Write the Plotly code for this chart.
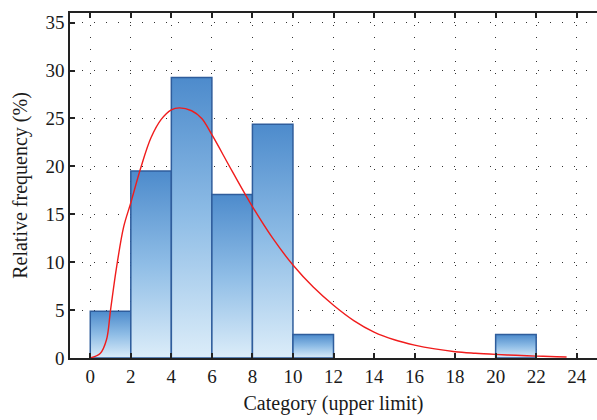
import plotly.graph_objects as go

# ---- data ----
bin_left = [0, 2, 4, 6, 8, 10, 20]
bin_width = 2
rel_freq = [4.88, 19.51, 29.27, 17.07, 24.39, 2.44, 2.44]

curve_x = [0, 0.5, 0.8, 1.0, 1.3, 1.65, 2.0, 2.5, 3.0, 3.5, 4.0, 4.4, 5.0, 5.5, 6.0,
           7.0, 8.0, 9.0, 10.0, 11.0, 12.0, 13.0, 14.0, 15.0, 16.0, 17.0, 18.0,
           19.0, 20.0, 21.0, 22.0, 23.0, 23.5]
curve_y = [0, 0.5, 1.9, 5.0, 9.5, 13.7, 16.2, 19.9, 23.0, 24.9, 25.9, 26.1, 25.8, 25.0, 23.3,
           19.5, 15.8, 12.5, 9.7, 7.4, 5.5, 3.9, 2.7, 1.9, 1.35, 0.95, 0.66,
           0.5, 0.38, 0.28, 0.2, 0.13, 0.1]

x_ticks = list(range(0, 25, 2))
y_ticks = list(range(0, 36, 5))

FONT = "Liberation Serif"

fig = go.Figure()

for left, h in zip(bin_left, rel_freq):
    right = left + bin_width
    fig.add_trace(go.Scatter(
        x=[left, left, right, right, left],
        y=[0, h, h, 0, 0],
        mode="lines",
        fill="toself",
        fillgradient=dict(type="vertical",
                          colorscale=[[0, "#dcedf9"], [0.5, "#8fbde6"], [1, "#4d8bcc"]]),
        line=dict(color="#2f5d9c", width=1.5),
        hoverinfo="skip",
        showlegend=False,
    ))

fig.add_trace(go.Scatter(
    x=curve_x, y=curve_y, mode="lines",
    line=dict(color="#f01c1c", width=1.4, shape="spline", smoothing=1.0),
    showlegend=False,
))

fig.update_layout(
    width=597, height=420,
    margin=dict(l=70, r=0, t=13, b=62),
    plot_bgcolor="white", paper_bgcolor="white",
    font=dict(family=FONT, size=19, color="#1a1a1a"),
)

fig.update_xaxes(
    range=[-1, 25], tickvals=x_ticks, ticks="inside", ticklen=5, tickwidth=1.5,
    tickcolor="#222", showline=True, linecolor="#222", linewidth=1.5, mirror="ticks",
    showgrid=True, gridcolor="#333", gridwidth=1.2, griddash="1px,11px",
    zeroline=False, tickfont=dict(size=19),
    title=dict(text="Category (upper limit)", font=dict(size=20), standoff=10),
)
fig.update_yaxes(
    range=[0, 36], tickvals=y_ticks, ticks="inside", ticklen=5, tickwidth=1.5,
    tickcolor="#222", showline=True, linecolor="#222", linewidth=1.5, mirror=False,
    showgrid=True, gridcolor="#333", gridwidth=1.2, griddash="1px,11px",
    zeroline=False, tickfont=dict(size=19),
    title=dict(text="Relative frequency (%)", font=dict(size=20), standoff=12),
)

fig.write_html("out.html")
